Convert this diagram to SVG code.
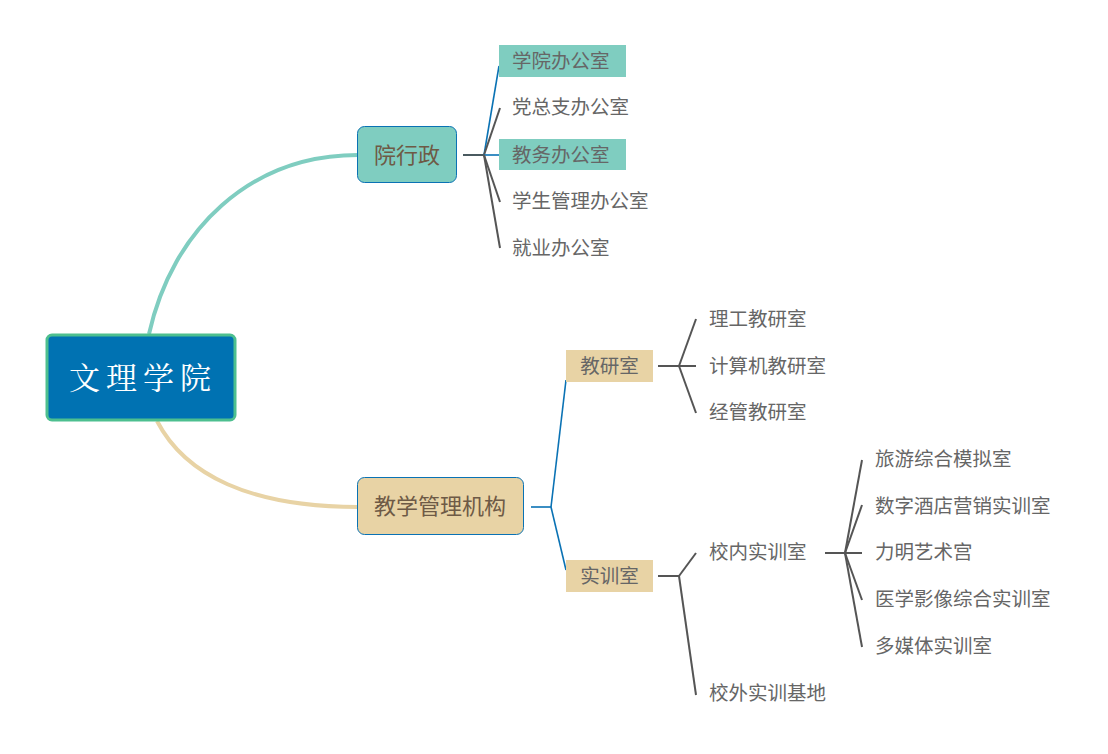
<svg xmlns="http://www.w3.org/2000/svg" width="1108" height="754" viewBox="0 0 1108 754">
<style>
.t{font-family:"Noto Sans CJK SC","Liberation Sans",sans-serif;font-size:19.5px;fill:#666666}
.n{font-family:"Noto Sans CJK SC","Liberation Sans",sans-serif;font-size:22px;fill:#6e5a46;text-anchor:middle}
.s{font-family:"Noto Sans CJK SC","Liberation Sans",sans-serif;font-size:19.5px;fill:#666666;text-anchor:middle}
.g{stroke:#555555;stroke-width:2;fill:none}
.b{stroke:#0a72b4;stroke-width:1.6;fill:none}
</style>
<rect width="1108" height="754" fill="#ffffff"/>
<g id="connectors">
<path d="M149,334 C172,230 250,155 358,155" stroke="#7fcdc0" stroke-width="4" fill="none"/>
<path d="M157,421 C185,475 250,507 358,507" stroke="#e8d3a5" stroke-width="4" fill="none"/>
<line x1="463" y1="155" x2="484" y2="155" stroke="#4a5a60" stroke-width="2"/>
<line class="b" x1="484" y1="155" x2="499" y2="66"/>
<line class="g" x1="484" y1="155" x2="500" y2="108"/>
<line class="b" x1="484" y1="155" x2="499" y2="155"/>
<line class="g" x1="484" y1="155" x2="500" y2="202"/>
<line class="g" x1="484" y1="155" x2="500" y2="248"/>
<line class="b" x1="531" y1="507" x2="551" y2="507"/>
<line class="b" x1="551" y1="507" x2="566" y2="380"/>
<line class="b" x1="551" y1="507" x2="566" y2="570"/>
<line class="g" x1="658" y1="366" x2="679" y2="366"/>
<line class="g" x1="679" y1="366" x2="696" y2="319"/>
<line class="g" x1="679" y1="366" x2="696" y2="366"/>
<line class="g" x1="679" y1="366" x2="696" y2="413"/>
<line class="g" x1="658" y1="576" x2="679" y2="576"/>
<line class="g" x1="679" y1="576" x2="696" y2="553"/>
<line class="g" x1="679" y1="576" x2="696" y2="695"/>
<line class="g" x1="825" y1="553" x2="845" y2="553"/>
<line class="g" x1="845" y1="553" x2="862" y2="460"/>
<line class="g" x1="845" y1="553" x2="862" y2="505"/>
<line class="g" x1="845" y1="553" x2="862" y2="553"/>
<line class="g" x1="845" y1="553" x2="862" y2="600"/>
<line class="g" x1="845" y1="553" x2="862" y2="647"/>
</g>
<g id="root">
<rect x="47" y="335" width="188" height="85" rx="5" fill="#0072b2" stroke="#4dbf8f" stroke-width="3"/>
<text x="143" y="389" text-anchor="middle" font-family="'Noto Serif CJK SC','Noto Sans CJK SC',serif" font-size="31" letter-spacing="6" fill="#ffffff">文理学院</text>
</g>
<g id="yuanxingzheng">
<rect x="357.5" y="126.5" width="99" height="56" rx="7" fill="#7fcdc0" stroke="#0a72b4" stroke-width="1"/>
<text class="n" x="407" y="163">院行政</text>
</g>
<g id="xueyuanban">
<rect x="499" y="45" width="127" height="32" fill="#7fcdc0"/>
<text class="t" x="512" y="68">学院办公室</text>
</g>
<g id="dangzongzhi"><text class="t" x="512" y="114">党总支办公室</text></g>
<g id="jiaowu">
<rect x="499" y="139" width="127" height="31" fill="#7fcdc0"/>
<text class="t" x="512" y="162">教务办公室</text>
</g>
<g id="xuesheng"><text class="t" x="512" y="208">学生管理办公室</text></g>
<g id="jiuye"><text class="t" x="512" y="255">就业办公室</text></g>
<g id="jiaoxue">
<rect x="357.5" y="477.5" width="166" height="57" rx="7" fill="#e8d3a5" stroke="#0a72b4" stroke-width="1"/>
<text class="n" x="440" y="514">教学管理机构</text>
</g>
<g id="jiaoyanshi">
<rect x="566" y="350" width="87" height="32" fill="#e8d3a5"/>
<text class="s" x="609.5" y="373">教研室</text>
</g>
<g id="shixunshi">
<rect x="566" y="560" width="87" height="32" fill="#e8d3a5"/>
<text class="s" x="609.5" y="583">实训室</text>
</g>
<g id="ligong"><text class="t" x="709" y="326">理工教研室</text></g>
<g id="jisuanji"><text class="t" x="709" y="373">计算机教研室</text></g>
<g id="jingguan"><text class="t" x="709" y="419">经管教研室</text></g>
<g id="xiaonei"><text class="t" x="709" y="559">校内实训室</text></g>
<g id="xiaowai"><text class="t" x="709" y="700">校外实训基地</text></g>
<g id="lvyou"><text class="t" x="875" y="466">旅游综合模拟室</text></g>
<g id="shuzi"><text class="t" x="875" y="513">数字酒店营销实训室</text></g>
<g id="liming"><text class="t" x="875" y="559">力明艺术宫</text></g>
<g id="yixue"><text class="t" x="875" y="606">医学影像综合实训室</text></g>
<g id="duomeiti"><text class="t" x="875" y="653">多媒体实训室</text></g>
</svg>
